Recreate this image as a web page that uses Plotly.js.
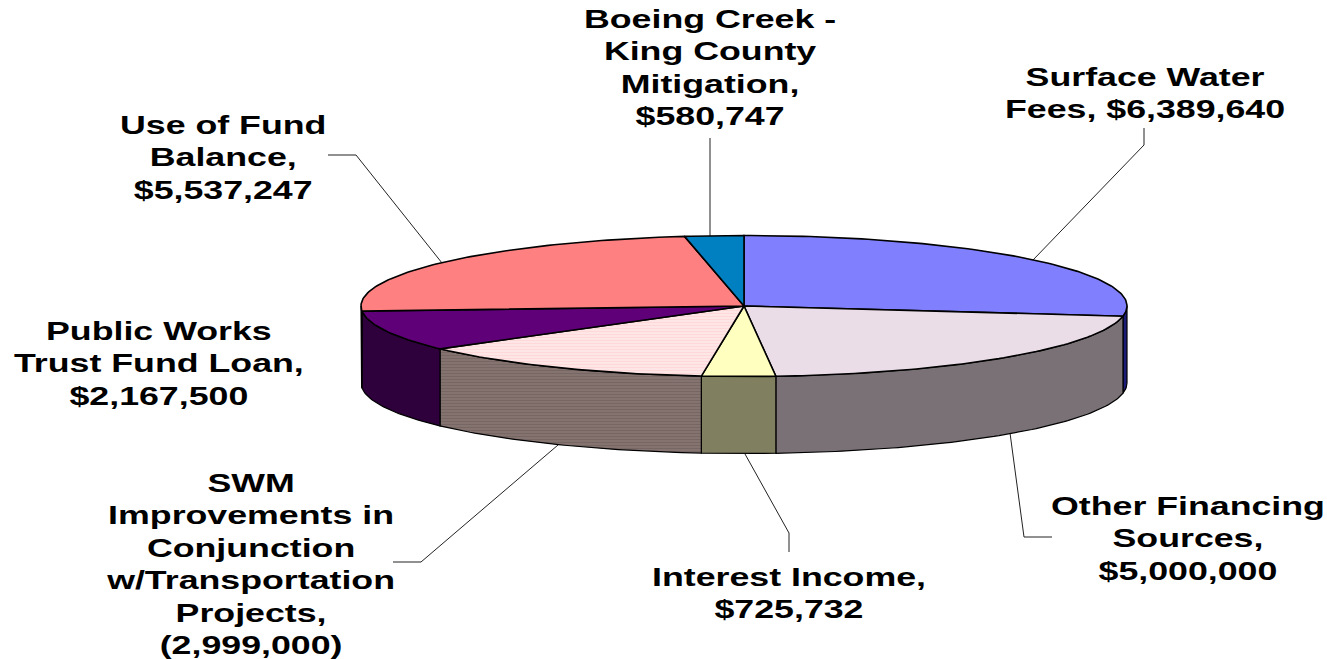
<!DOCTYPE html>
<html>
<head>
<meta charset="utf-8">
<script src="https://cdn.plot.ly/plotly-3.0.1.min.js"></script>
<style>
html,body{margin:0;padding:0;background:#fff}
#chart{width:1327px;height:659px}
.annotation-text{transform-box:fill-box;transform-origin:center;transform:scaleX(1.43)}
</style>
</head>
<body>
<div id="chart"></div>
<script>
// Data
const categories = ["Surface Water Fees","Other Financing Sources","Interest Income","SWM Improvements in Conjunction w/Transportation Projects","Public Works Trust Fund Loan","Use of Fund Balance","Boeing Creek - King County Mitigation"];
const values = [6389640,5000000,725732,2999000,2167500,5537247,580747];
const labelTexts = [
 "Surface Water<br>Fees, $6,389,640",
 "Other Financing<br>Sources,<br>$5,000,000",
 "Interest Income,<br>$725,732",
 "SWM<br>Improvements in<br>Conjunction<br>w/Transportation<br>Projects,<br>(2,999,000)",
 "Public Works<br>Trust Fund Loan,<br>$2,167,500",
 "Use of Fund<br>Balance,<br>$5,537,247",
 "Boeing Creek -<br>King County<br>Mitigation,<br>$580,747"
];
const labelX = [1145,1188,789,250,159,223,710];
const labelY = [93,538,593,564,363,157,68];
const topColors = ["#8080FF","#EADDE8","#FFFFC0","#FFE2E2","#600078","#FF8080","#0080C0"];
const sideColors = ["#1C1C78","#797176","#808060","#83716F","#2E003C","#804040","#004060"];
const leaderX = [[1144,1144,1033],[1052,1024,1010],[789,789,745],[393,421,558],[],[328,356,442],[710,710]];
const leaderY = [[128,145,260],[537,537,433],[552,533,454],[562,562,445],[],[155,155,263],[138,236]];

const cx=744, cy=306, rx=383, ry=70.5, depth=77;
const total = values.reduce((a,b)=>a+b,0);
const px = a => cx + rx*Math.sin(a*Math.PI/180);
const py = (a,d) => cy - ry*Math.cos(a*Math.PI/180) + (d||0);
function arc(a0,a1){const r=[];const n=Math.max(2,Math.ceil(Math.abs(a1-a0)));for(let i=0;i<=n;i++)r.push(a0+(a1-a0)*i/n);return r;}

const sides=[], tops=[], leaders=[];
let start=0;
values.forEach((v,i)=>{
  const end=start+v/total*360;
  const lo=Math.max(start,90), hi=Math.min(end,270);
  const striped = i===3;
  if(hi>lo){
    const as=arc(lo,hi), rev=as.slice().reverse();
    sides.push({type:"scatter",mode:"lines",name:categories[i]+" side",
      x:as.map(a=>px(a)).concat(rev.map(a=>px(a))).concat([px(lo)]),
      y:as.map(a=>py(a)).concat(rev.map(a=>py(a,depth))).concat([py(lo)]),
      fill:"toself",fillcolor:sideColors[i],
      fillpattern: striped?{shape:"-",size:3,solidity:0.25,fgcolor:"#726260",bgcolor:"#857370"}:undefined,
      line:{color:"#000",width:1.2},hoverinfo:"skip",showlegend:false});
  }
  const as=arc(start,end);
  tops.push({type:"scatter",mode:"lines",name:categories[i],
    x:[cx].concat(as.map(a=>px(a))).concat([cx]),
    y:[cy].concat(as.map(a=>py(a))).concat([cy]),
    fill:"toself",fillcolor:topColors[i],
    fillpattern: striped?{shape:"-",size:3,solidity:0.25,fgcolor:"#FFD4D4",bgcolor:"#FFE6E6"}:undefined,
    line:{color:"#000",width:1.6},hoverinfo:"skip",showlegend:false});
  if(leaderX[i].length) leaders.push({type:"scatter",mode:"lines",x:leaderX[i],y:leaderY[i],
    line:{color:"#222",width:1},hoverinfo:"skip",showlegend:false});
  start=end;
});

const annotations = labelTexts.map((t,i)=>({text:t,x:labelX[i],y:labelY[i],xref:"x",yref:"y",showarrow:false,
  xanchor:"center",yanchor:"middle",align:"center",
  font:{family:"Liberation Sans",size:25,color:"#000",weight:700}}));

Plotly.newPlot("chart",leaders.concat(sides,tops),{
  width:1327,height:659,margin:{l:0,r:0,t:0,b:0},
  paper_bgcolor:"#fff",plot_bgcolor:"#fff",showlegend:false,
  xaxis:{range:[0,1327],visible:false,fixedrange:true},
  yaxis:{range:[659,0],visible:false,fixedrange:true},
  annotations
},{displayModeBar:false,staticPlot:true});
</script>
</body>
</html>
